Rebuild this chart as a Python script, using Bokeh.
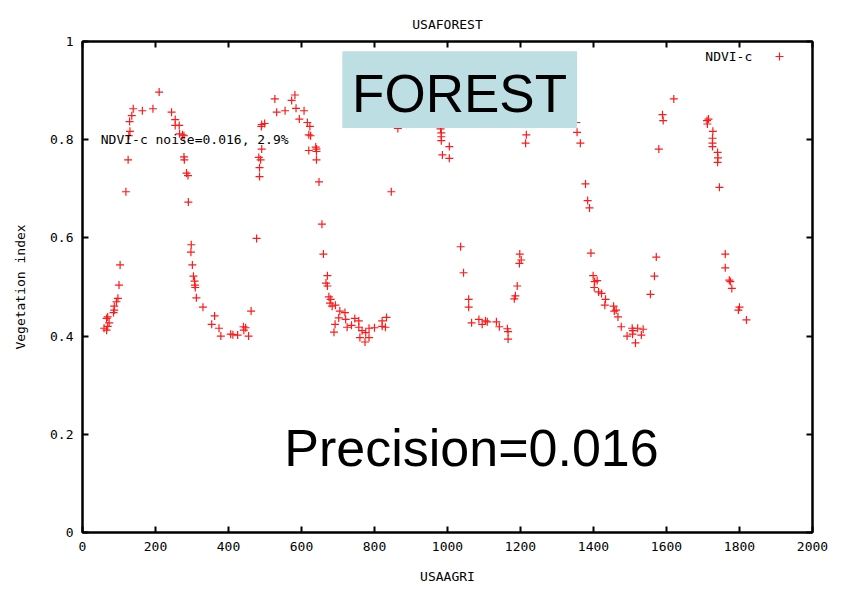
from bokeh.plotting import figure
from bokeh.models import (Range1d, LinearAxis, FixedTicker, Label, BoxAnnotation,
                          Legend, LegendItem)
from bokeh.embed import file_html
from bokeh.resources import INLINE

title_text = "USAFOREST"
x_label = "USAAGRI"
y_label = "Vegetation index"
series_name = "NDVI-c"
note_text = "NDVI-c noise=0.016, 2.9%"
box_text = "FOREST"
precision_text = "Precision=0.016"
x_ticks = [0, 200, 400, 600, 800, 1000, 1200, 1400, 1600, 1800, 2000]
y_ticks = [0, 0.2, 0.4, 0.6, 0.8, 1.0]

ndvi_x = [
    59, 66, 66, 69, 69, 73, 85, 87, 87, 93,
    97, 100, 103, 119, 125, 127, 130, 129, 135, 139,
    164, 193, 210, 244, 254, 254, 265, 266, 274, 278,
    278, 279, 285, 289, 290, 298, 297, 301, 304, 307,
    308, 309, 312, 330, 354, 362, 374, 379, 406, 412,
    425, 441, 447, 442, 455, 462, 477, 485, 485, 488,
    483, 491, 490, 491, 499, 527, 532, 555, 573, 582,
    585, 607, 594, 616, 623, 620, 625, 639, 641, 620,
    641, 641, 648, 656, 660, 671, 667, 671, 675, 680,
    678, 684, 693, 705, 719, 702, 721, 692, 689, 725,
    737, 746, 757, 757, 766, 776, 785, 760, 785, 774,
    800, 821, 833, 821, 830, 846, 864, 981, 983, 983,
    983, 1005, 986, 1005, 1036, 1044, 1058, 1058, 1066, 1086,
    1095, 1104, 1109, 1134, 1142, 1164, 1166, 1166, 1183, 1186,
    1191, 1198, 1202, 1197, 1214, 1216, 1353, 1355, 1364, 1378,
    1384, 1389, 1393, 1399, 1403, 1410, 1402, 1414, 1422, 1433,
    1431, 1455, 1457, 1462, 1467, 1476, 1492, 1506, 1508, 1507,
    1521, 1536, 1531, 1515, 1556, 1567, 1572, 1579, 1589, 1591,
    1620, 1711, 1715, 1712, 1727, 1726, 1726, 1726, 1740, 1741,
    1740, 1745, 1761, 1761, 1772, 1775, 1779, 1800, 1797, 1819,
]
ndvi_y = [
    0.416, 0.412, 0.436, 0.439, 0.420, 0.427, 0.448, 0.453, 0.461, 0.470,
    0.477, 0.504, 0.545, 0.694, 0.759, 0.808, 0.817, 0.837, 0.849, 0.863,
    0.859, 0.863, 0.897, 0.856, 0.841, 0.829, 0.829, 0.812, 0.810, 0.808,
    0.765, 0.759, 0.732, 0.727, 0.673, 0.586, 0.571, 0.545, 0.522, 0.512,
    0.504, 0.499, 0.478, 0.459, 0.424, 0.441, 0.416, 0.400, 0.404, 0.403,
    0.402, 0.419, 0.417, 0.412, 0.400, 0.451, 0.599, 0.725, 0.743, 0.759,
    0.764, 0.781, 0.827, 0.831, 0.833, 0.883, 0.856, 0.859, 0.880, 0.891,
    0.864, 0.859, 0.842, 0.835, 0.827, 0.810, 0.808, 0.785, 0.781, 0.778,
    0.776, 0.759, 0.714, 0.628, 0.567, 0.523, 0.508, 0.502, 0.480, 0.475,
    0.467, 0.461, 0.463, 0.451, 0.448, 0.437, 0.434, 0.424, 0.408, 0.418,
    0.422, 0.436, 0.431, 0.418, 0.411, 0.407, 0.416, 0.397, 0.397, 0.388,
    0.417, 0.431, 0.438, 0.420, 0.418, 0.694, 0.823, 0.822, 0.814, 0.806,
    0.798, 0.786, 0.769, 0.762, 0.582, 0.529, 0.475, 0.459, 0.427, 0.434,
    0.424, 0.431, 0.429, 0.429, 0.419, 0.415, 0.409, 0.394, 0.476, 0.482,
    0.502, 0.567, 0.555, 0.548, 0.793, 0.810, 0.835, 0.815, 0.793, 0.710,
    0.676, 0.661, 0.569, 0.523, 0.511, 0.513, 0.499, 0.490, 0.487, 0.475,
    0.463, 0.461, 0.451, 0.453, 0.439, 0.419, 0.400, 0.416, 0.411, 0.404,
    0.416, 0.414, 0.402, 0.386, 0.485, 0.522, 0.561, 0.781, 0.851, 0.839,
    0.883, 0.839, 0.842, 0.832, 0.817, 0.803, 0.793, 0.786, 0.774, 0.763,
    0.754, 0.703, 0.567, 0.539, 0.514, 0.511, 0.497, 0.459, 0.453, 0.433,
]

MONO = "DejaVu Sans Mono"
FS = "13px"

p = figure(width=848, height=593, output_backend="svg", toolbar_location=None,
           x_range=Range1d(0, 2000), y_range=Range1d(0, 1),
           min_border_left=82, min_border_right=36, min_border_top=41,
           min_border_bottom=61, x_axis_label=x_label, y_axis_label=y_label)

p.title.text = title_text
p.title.align = "center"
p.title.text_font = MONO
p.title.text_font_size = FS
p.title.text_font_style = "normal"
p.title.text_color = "black"
p.title.standoff = 20

p.xgrid.visible = False
p.ygrid.visible = False
p.outline_line_color = "black"
p.outline_line_width = 2
p.outline_line_alpha = 1
p.background_fill_color = "white"
p.border_fill_color = "white"

def style_axis(ax, ticks):
    ax.ticker = FixedTicker(ticks=ticks)
    ax.minor_tick_line_color = None
    ax.major_tick_in = 6
    ax.major_tick_out = 0
    ax.major_tick_line_width = 2
    ax.major_tick_line_color = "black"
    ax.axis_line_width = 2
    ax.axis_line_color = "black"
    ax.major_label_text_font = MONO
    ax.major_label_text_font_size = FS
    ax.major_label_text_color = "black"
    ax.axis_label_text_font = MONO
    ax.axis_label_text_font_size = FS
    ax.axis_label_text_font_style = "normal"
    ax.axis_label_text_color = "black"

for ax in p.xaxis:
    style_axis(ax, x_ticks)
    ax.major_label_standoff = 9
    ax.axis_label_standoff = 15
for ax in p.yaxis:
    style_axis(ax, y_ticks)
    ax.major_label_standoff = 9
    ax.axis_label_standoff = 19
    ax.major_label_overrides = {0: "0", 1: "1"}

# tick marks only on the top and right edges (labels are not drawn)
top_axis = LinearAxis()
style_axis(top_axis, x_ticks)
top_axis.major_label_text_color = None
top_axis.major_label_text_font_size = "1px"
top_axis.major_label_standoff = 0
right_axis = LinearAxis()
style_axis(right_axis, y_ticks)
right_axis.major_label_text_color = None
right_axis.major_label_text_font_size = "1px"
right_axis.major_label_standoff = 0
p.add_layout(top_axis, "above")
p.add_layout(right_axis, "right")

r = p.scatter(ndvi_x, ndvi_y, marker="cross", size=8, line_color="#ff1a1a",
              line_width=1.2)

# gnuplot-style key: text on the left, sample mark on the right
legend = Legend(items=[LegendItem(label=" ", renderers=[r])],
                location=(687, 466), glyph_width=20, glyph_height=20,
                label_standoff=0, padding=0, margin=0, border_line_color=None,
                background_fill_alpha=0, label_text_font=MONO,
                label_text_font_size=FS, label_text_color="black")
p.add_layout(legend)
p.add_layout(Label(x=1835, y=0.969, text=series_name, text_font=MONO,
                   text_font_size=FS, text_baseline="middle", text_align="right",
                   text_color="black"))

p.add_layout(Label(x=50, y=0.8, text=note_text, text_font=MONO,
                   text_font_size=FS, text_baseline="middle", text_align="left",
                   text_color="black"))

p.add_layout(BoxAnnotation(left=711.7, right=1355, bottom=0.8236, top=0.98,
                           fill_color="#bddfe3", fill_alpha=1, line_color=None))
p.add_layout(Label(x=1033, y=0.895, text=box_text, text_font="Liberation Sans",
                   text_font_size="53px", text_align="center",
                   text_baseline="alphabetic", text_color="black"))
p.add_layout(Label(x=553, y=0.172, text=precision_text,
                   text_font="Liberation Sans", text_font_size="52px",
                   text_align="left", text_baseline="alphabetic",
                   text_color="black"))

open("out.html", "w").write(file_html(p, INLINE))
